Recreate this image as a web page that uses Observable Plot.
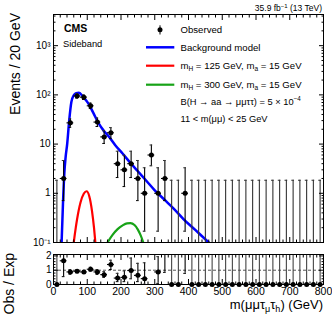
<!DOCTYPE html>
<html><head><meta charset="utf-8">
<script src="https://cdn.jsdelivr.net/npm/d3@7"></script>
<script src="https://cdn.jsdelivr.net/npm/@observablehq/plot@0.6"></script>
<style>
html,body{margin:0;padding:0;background:#fff;}
#wrap{position:relative;width:332px;height:319px;overflow:hidden;background:#fff;}
#wrap svg{position:absolute;left:0;}
</style></head><body><div id="wrap"></div>
<script>
// ---------------- data ----------------
const binCenters = [10,30,50,70,90,110,130,150,170,190,210,230,250,270,290,310,330,350,370,390,410,430,450,470,490,510,530,550,570,590,610,630,650,670,690,710,730,750,770,790];
const observed = [0,2,27,95,90,60,28,14,17,4,3,4,2,1,6,1,2,0,0,1,0,0,0,0,0,0,0,0,0,0,0,0,0,0,0,0,0,0,0,0];
const obsLow  = [0,0.71,21.9,85.8,80.6,52.7,22.8,10.3,12.9,2.09,1.37,2.09,0.71,0.17,3.62,0.17,0.71,0,0,0.17,0,0,0,0,0,0,0,0,0,0,0,0,0,0,0,0,0,0,0,0];
const obsHigh = [1.84,4.64,32.6,105.3,100,68.2,33.8,18.7,21.6,7.16,5.92,7.16,4.64,3.3,9.58,3.3,4.64,1.84,1.84,3.3,1.84,1.84,1.84,1.84,1.84,1.84,1.84,1.84,1.84,1.84,1.84,1.84,1.84,1.84,1.84,1.84,1.84,1.84,1.84,1.84];

const ratio     = [0,1.66,0.88,0.93,0.88,1.07,0.88,0.69,1.4,0.45,0.5,0.98,0.64,0.41,3.7,0.88,2.4,0,0,4.5,0,0,0,0,0,0,0,0,0,0,0,0,0,0,0,0,0,0,0,0];
const ratioLow  = [0,0.55,0.72,0.83,0.79,0.94,0.71,0.5,1.05,0.2,0.2,0.4,0.2,0.02,2.2,0.08,0.85,0,0,0.78,0,0,0,0,0,0,0,0,0,0,0,0,0,0,0,0,0,0,0,0];
const ratioHigh = [5,2.2,1.05,1.03,0.98,1.21,1.05,0.9,1.7,0.78,0.95,1.85,1.48,1.52,6,1.95,5.5,5,5,14,5,5,5,5,5,5,5,5,5,5,5,5,5,5,5,5,5,5,5,5];

const bkgMass  = [20,24,28,32,36,40.5,46.5,53,60,67,75,85,95,104,118,133,148,163,183,204,226,250,275,300,328,356,385,420,460,490];
const bkgValue = [0.03,0.1,0.6,2.5,5.5,10,30,72,98,108,110,97,80,66,43,27,19,14.5,9.5,6.5,4.3,2.8,1.8,1.15,0.75,0.49,0.3,0.18,0.1,0.065];

const sig125Mass  = [56,60,66,70,80,90,98,106,114,120,124,128];
const sig125Value = [0.06,0.1,0.2,0.3,0.65,0.99,1.1,0.87,0.44,0.2,0.1,0.05];

const sig300Mass  = [150,160,175,190,205,218,228,240,250,258,266,272];
const sig300Value = [0.076,0.1,0.143,0.187,0.223,0.245,0.248,0.226,0.183,0.141,0.1,0.073];

const yTicks = [0.1,1,10,100,1000];
const yTickLabels = ["10\u207B\u00B9","1","10","10\u00B2","10\u00B3"];
const xTicks = [0,100,200,300,400,500,600,700,800];
const ratioTicks = [0,1,2];
const ratioTickLabels = ["0","1","2"];
const refLine = [1];

// ---------------- build ----------------
const FONT = '"Liberation Sans", Arial, Helvetica, sans-serif';
const obs = binCenters.map((m,i)=>({m, n:observed[i], lo:obsLow[i], hi:obsHigh[i]}));
const rat = binCenters.map((m,i)=>({m, r:ratio[i], lo:ratioLow[i], hi:ratioHigh[i]}));
const bkg = bkgMass.map((m,i)=>({m, v:bkgValue[i]}));
const s125 = sig125Mass.map((m,i)=>({m, v:sig125Value[i]}));
const s300 = sig300Mass.map((m,i)=>({m, v:sig300Value[i]}));

const xMinor = d3.range(0, 801, 20).filter(v => v % 100 !== 0);
const yMinor = [];
for (const dec of [0.1,1,10,100,1000]) for (let k=2;k<=9;k++) if (dec*k < 4300) yMinor.push(dec*k);
const rMinor = d3.range(0.2, 2.1, 0.2).filter(v => Math.abs(v-1) > 0.01 && Math.abs(v-2) > 0.01);

const yLabMap = new Map(yTicks.map((t,i)=>[t, yTickLabels[i]]));
const rLabMap = new Map(ratioTicks.map((t,i)=>[t, ratioTickLabels[i]]));
const nz = obs.filter(d => d.n > 0);
const capW = 4;

const main = Plot.plot({
  width: 332, height: 246,
  marginLeft: 53, marginRight: 9, marginTop: 14, marginBottom: 4,
  style: {fontFamily: FONT, fontSize: "10px", color: "black", background: "transparent", overflow: "visible"},
  x: {domain: [0, 800], label: null},
  y: {type: "log", domain: [0.1, 4300], label: null},
  marks: [
    Plot.line(bkg, {x: "m", y: "v", stroke: "#0000ff", strokeWidth: 2.5, curve: "monotone-x", clip: true}),
    Plot.line(s125, {x: "m", y: "v", stroke: "#ff0000", strokeWidth: 2.2, curve: "monotone-x", clip: true}),
    Plot.line(s300, {x: "m", y: "v", stroke: "#17a317", strokeWidth: 2.2, curve: "monotone-x", clip: true}),
    Plot.ruleX(obs, {x: "m", y1: d => Math.max(d.lo, 0.01), y2: "hi", stroke: d => d.n > 0 ? "black" : "#333", strokeWidth: 1.1, clip: true}),
    Plot.ruleY(obs, {y: "hi", x1: d => d.m - capW, x2: d => d.m + capW, stroke: "#333", clip: true}),
    Plot.ruleY(nz, {y: "lo", x1: d => d.m - capW, x2: d => d.m + capW, stroke: "black", clip: true}),
    Plot.ruleY(nz, {y: "n", x1: d => d.m - 10, x2: d => d.m + 10, stroke: "black", strokeWidth: 1.1}),
    Plot.dot(nz, {x: "m", y: "n", r: 2.5, fill: "black", stroke: "none"}),
    Plot.axisY(yTicks, {anchor: "left", tickSize: -5, tickPadding: 8, tickFormat: d => yLabMap.get(d), fontSize: 10, label: null}),
    Plot.axisY(yMinor, {anchor: "left", tickSize: -2.5, fill: "none", label: null}),
    Plot.axisY(yTicks, {anchor: "right", tickSize: -5, fill: "none", label: null}),
    Plot.axisY(yMinor, {anchor: "right", tickSize: -2.5, fill: "none", label: null}),
    Plot.axisX(xTicks, {anchor: "bottom", tickSize: -5, fill: "none", label: null}),
    Plot.axisX(xMinor, {anchor: "bottom", tickSize: -2.5, fill: "none", label: null}),
    Plot.axisX(xTicks, {anchor: "top", tickSize: -5, fill: "none", label: null}),
    Plot.axisX(xMinor, {anchor: "top", tickSize: -2.5, fill: "none", label: null}),
    Plot.frame({stroke: "black", strokeWidth: 1})
  ]
});
main.style.top = "0px";

const ratioPlot = Plot.plot({
  width: 332, height: 79,
  marginLeft: 53, marginRight: 9, marginTop: 14, marginBottom: 35,
  style: {fontFamily: FONT, fontSize: "10px", color: "black", background: "transparent", overflow: "visible"},
  x: {domain: [0, 800], label: null},
  y: {domain: [0, 2.1], label: null},
  marks: [
    Plot.ruleY(refLine, {stroke: "#555", strokeDasharray: "3,2", strokeWidth: 1}),
    Plot.ruleX(rat, {x: "m", y1: "lo", y2: "hi", stroke: d => d.r > 0 ? "black" : "#444", strokeWidth: 1.1, clip: true}),
    Plot.ruleY(rat, {y: "hi", x1: d => d.m - capW, x2: d => d.m + capW, stroke: "#333", clip: true}),
    Plot.ruleY(rat.filter(d => d.r > 0), {y: "lo", x1: d => d.m - capW, x2: d => d.m + capW, stroke: "black", clip: true}),
    Plot.ruleY(rat.filter(d => d.r > 0 && d.r <= 2.1), {y: "r", x1: d => d.m - 10, x2: d => d.m + 10, stroke: "black", strokeWidth: 1.1}),
    Plot.dot(rat.filter(d => d.r <= 2.1), {x: "m", y: "r", r: 2.5, fill: "black", stroke: "none"}),
    Plot.axisY(ratioTicks, {anchor: "left", tickSize: -5, tickPadding: 7, tickFormat: d => rLabMap.get(d), fontSize: 10, label: null}),
    Plot.axisY(rMinor, {anchor: "left", tickSize: -2.5, fill: "none", label: null}),
    Plot.axisY(ratioTicks, {anchor: "right", tickSize: -5, fill: "none", label: null}),
    Plot.axisY(rMinor, {anchor: "right", tickSize: -2.5, fill: "none", label: null}),
    Plot.axisX(xTicks, {anchor: "bottom", tickSize: -5, tickPadding: 8, fontSize: 10.5, label: null}),
    Plot.axisX(xMinor, {anchor: "bottom", tickSize: -2.5, fill: "none", label: null}),
    Plot.axisX(xTicks, {anchor: "top", tickSize: -5, fill: "none", label: null}),
    Plot.axisX(xMinor, {anchor: "top", tickSize: -2.5, fill: "none", label: null}),
    Plot.frame({stroke: "black", strokeWidth: 1})
  ]
});
ratioPlot.style.top = "240px";

const wrap = document.getElementById("wrap");
wrap.appendChild(main);
wrap.appendChild(ratioPlot);

// ---------------- annotations (text, legend) ----------------
const legendX = 180.5;
const overlay = `
<svg width="332" height="319" style="position:absolute;left:0;top:0;pointer-events:none" font-family='${FONT}' fill="black">
  <text x="322" y="11" text-anchor="end" font-size="8.5">35.9 fb<tspan dy="-3" font-size="6">\u22121</tspan><tspan dy="3"> (13 TeV)</tspan></text>
  <text x="64" y="32.3" font-size="10.5" font-weight="bold">CMS</text>
  <text x="63" y="46.7" font-size="9.3">Sideband</text>

  <line x1="160" x2="160" y1="25.3" y2="34.5" stroke="black" stroke-width="1"/>
  <circle cx="160" cy="29.8" r="2.5" fill="black"/>
  <line x1="146" x2="174.3" y1="47.3" y2="47.3" stroke="#0000ff" stroke-width="2.5"/>
  <line x1="146" x2="174.3" y1="65.7" y2="65.7" stroke="#ff0000" stroke-width="2.2"/>
  <line x1="146" x2="174.3" y1="84.7" y2="84.7" stroke="#17a317" stroke-width="2.2"/>

  <text x="${legendX}" y="33.2" font-size="9.6">Observed</text>
  <text x="${legendX}" y="50.8" font-size="9.6">Background model</text>
  <text x="${legendX}" y="69" font-size="9.6">m<tspan dy="2" font-size="6.5">H</tspan><tspan dy="-2"> = 125 GeV, m</tspan><tspan dy="2" font-size="6.5">a</tspan><tspan dy="-2"> = 15 GeV</tspan></text>
  <text x="${legendX}" y="88" font-size="9.6">m<tspan dy="2" font-size="6.5">H</tspan><tspan dy="-2"> = 300 GeV, m</tspan><tspan dy="2" font-size="6.5">a</tspan><tspan dy="-2"> = 15 GeV</tspan></text>
  <text x="${legendX}" y="104.8" font-size="9.3">B(H \u2192 aa \u2192 \u03BC\u03BC\u03C4\u03C4) = 5 \u00D7 10<tspan dy="-3.5" font-size="6.3">\u22124</tspan></text>
  <text x="${legendX}" y="121.5" font-size="9.3">11 &lt; m(\u03BC\u03BC) &lt; 25 GeV</text>

  <text transform="translate(19.5,13) rotate(-90)" text-anchor="end" font-size="14">Events / 20 GeV</text>
  <text transform="translate(14,253) rotate(-90)" text-anchor="end" font-size="14">Obs / Exp</text>
  <text x="323" y="309" text-anchor="end" font-size="13">m(\u03BC\u03BC\u03C4<tspan dy="3" font-size="9">\u03BC</tspan><tspan dy="-3">\u03C4</tspan><tspan dy="3" font-size="9">h</tspan><tspan dy="-3">) (GeV)</tspan></text>
</svg>`;
wrap.insertAdjacentHTML("beforeend", overlay);
</script>
</body></html>
